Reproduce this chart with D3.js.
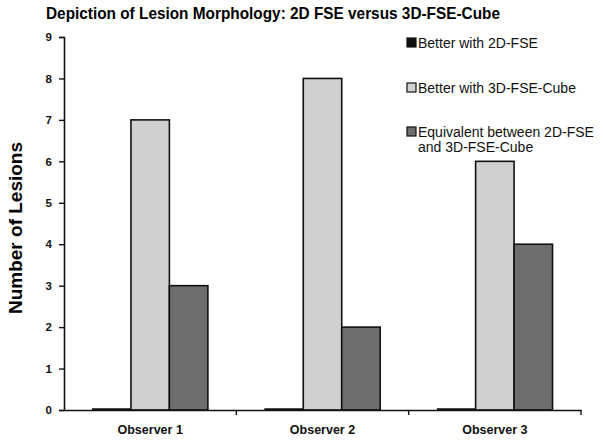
<!DOCTYPE html>
<html><head><meta charset="utf-8">
<script src="https://cdn.jsdelivr.net/npm/d3@7"></script>
<style>body{margin:0;background:#fff}svg{display:block}</style>
</head><body>
<svg id="c" width="603" height="441"></svg>
<script>
const categories = ["Observer 1", "Observer 2", "Observer 3"];
const seriesNames = ["Better with 2D-FSE", "Better with 3D-FSE-Cube", "Equivalent between 2D-FSE|and 3D-FSE-Cube"];
const better2D = [0, 0, 0];
const better3D = [7, 8, 6];
const equivalent = [3, 2, 4];
const yTicks = [0, 1, 2, 3, 4, 5, 6, 7, 8, 9];
const colors = ["#111111", "#d0d0d0", "#6e6e6e"];

const series = [better2D, better3D, equivalent];
const svg = d3.select("#c");
const font = "'Liberation Sans', Arial, sans-serif";
const m = {l: 64, r: 22, t: 37, b: 31};
const W = 603, H = 441;

const x = d3.scaleBand().domain(categories).range([m.l, W - m.r]).paddingInner(0).paddingOuter(0);
const y = d3.scaleLinear().domain([0, 9]).range([H - m.b, m.t]);
const x1 = d3.scaleBand().domain(d3.range(series.length)).range([0, x.bandwidth()]).paddingInner(0).paddingOuter(0.74);

// title
svg.append("text").attr("x", 46).attr("y", 19)
  .attr("textLength", 454).attr("lengthAdjust", "spacingAndGlyphs")
  .attr("font-family", font).attr("font-weight", "bold").attr("font-size", 17)
  .text("Depiction of Lesion Morphology: 2D FSE versus 3D-FSE-Cube");

// bars
categories.forEach((c, i) => {
  series.forEach((s, j) => {
    const v = s[i];
    const y0 = y(0), yv = y(v);
    svg.append("rect")
      .attr("x", x(c) + x1(j)).attr("width", x1.bandwidth())
      .attr("y", v === 0 ? y0 - 1.5 : yv).attr("height", v === 0 ? 1.5 : y0 - yv)
      .attr("fill", colors[j]).attr("stroke", "#111").attr("stroke-width", v === 0 ? 0.5 : 1.6);
  });
});

// y axis
const yAxis = svg.append("g").attr("transform", `translate(${m.l},0)`)
  .call(d3.axisLeft(y).tickValues(yTicks).tickSize(5).tickPadding(7).tickFormat(d3.format("d")));
yAxis.select(".domain").attr("stroke", "#111").attr("stroke-width", 1.6);
yAxis.selectAll(".tick line").attr("stroke", "#111").attr("stroke-width", 1.4);
yAxis.selectAll("text").attr("font-family", font).attr("font-weight", "bold").attr("font-size", 11.5).attr("fill", "#111");

// x axis
const xAxis = svg.append("g").attr("transform", `translate(0,${y(0)})`)
  .call(d3.axisBottom(x).tickSize(0).tickPadding(15).tickSizeOuter(0));
xAxis.select(".domain").attr("stroke", "#111").attr("stroke-width", 1.6);
xAxis.selectAll("text").attr("font-family", font).attr("font-weight", "bold").attr("font-size", 12.5).attr("fill", "#111");
// boundary ticks between categories
const bounds = categories.map(c => x(c) + x.bandwidth());
svg.append("g").selectAll("line").data(bounds).join("line")
  .attr("x1", d => d).attr("x2", d => d).attr("y1", y(0)).attr("y2", y(0) + 5)
  .attr("stroke", "#111").attr("stroke-width", 1.4);

// y label
svg.append("text").attr("transform", `translate(22,228) rotate(-90)`)
  .attr("text-anchor", "middle").attr("font-family", font).attr("font-weight", "bold").attr("font-size", 19)
  .text("Number of Lesions");

// legend
const legY = [48, 93, 137];
seriesNames.forEach((n, j) => {
  const g = svg.append("g").attr("transform", `translate(407,${legY[j]})`);
  g.append("rect").attr("x", 0).attr("y", -10).attr("width", 9).attr("height", 9)
    .attr("fill", colors[j]).attr("stroke", "#111").attr("stroke-width", 1.2);
  const parts = n.split("|");
  parts.forEach((p, k) => {
    g.append("text").attr("x", 11).attr("y", k * 15)
      .attr("font-family", font).attr("font-size", 14).attr("fill", "#111").text(p);
  });
});
</script>
</body></html>
